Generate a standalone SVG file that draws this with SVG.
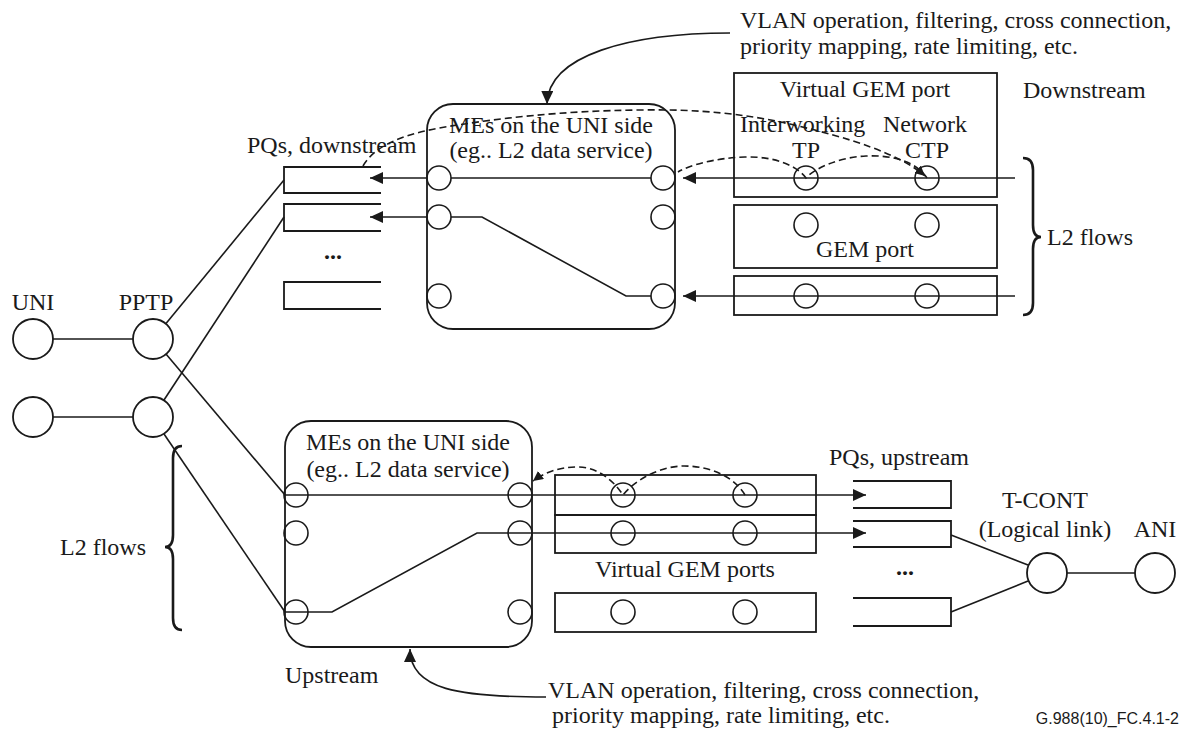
<svg xmlns="http://www.w3.org/2000/svg" width="1183" height="735" viewBox="0 0 1183 735">
<style>
  text { font-family: "Liberation Serif", "Times New Roman", serif; font-size: 24px; fill: #1a1a1a; }
  .mid { text-anchor: middle; }
  .code { font-family: "Liberation Sans", Arial, sans-serif; font-size: 16px; text-anchor: end; }
  .ln { fill: none; stroke: #1a1a1a; stroke-width: 1.6; }
  .box { fill: none; stroke: #1a1a1a; stroke-width: 1.8; }
  .port { fill: none; stroke: #1a1a1a; stroke-width: 1.6; }
  .big { fill: #fff; stroke: #1a1a1a; stroke-width: 1.8; }
  .dash { fill: none; stroke: #1a1a1a; stroke-width: 1.6; stroke-dasharray: 7 4; }
  .brace { fill: none; stroke: #1a1a1a; stroke-width: 2.6; }
  .dots { font-weight: bold; }
</style>
<defs>
  <marker id="arr" markerUnits="userSpaceOnUse" markerWidth="14" markerHeight="12" refX="13" refY="6" orient="auto">
    <path d="M0,0 L13,6 L0,12 z" fill="#1a1a1a"/>
  </marker>
  <marker id="arrs" markerUnits="userSpaceOnUse" markerWidth="11" markerHeight="10" refX="10" refY="5" orient="auto">
    <path d="M0,0 L10,5 L0,10 z" fill="#1a1a1a"/>
  </marker>
</defs>

<!-- labels -->
<g id="labels">
  <text x="740" y="28">VLAN operation, filtering, cross connection,</text>
  <text x="740" y="54">priority mapping, rate limiting, etc.</text>
  <text x="1023" y="98">Downstream</text>
  <text x="247" y="153">PQs, downstream</text>
  <text x="1047" y="245">L2 flows</text>
  <text x="829" y="465">PQs, upstream</text>
  <text x="60" y="555">L2 flows</text>
  <text x="285" y="683">Upstream</text>
  <text x="548" y="698">VLAN operation, filtering, cross connection,</text>
  <text x="552" y="723">priority mapping, rate limiting, etc.</text>
  <text class="code" x="1179" y="724">G.988(10)_FC.4.1-2</text>
  <path class="brace" d="M1023 158 Q1033 158 1033 170 L1033 225 Q1033 237 1041 237 Q1033 237 1033 249 L1033 303 Q1033 315 1023 315"/>
  <path class="brace" d="M182 446 Q173 446 173 458 L173 535 Q173 547 165 547 Q173 547 173 559 L173 618 Q173 630 182 630"/>
</g>

<!-- UNI / PPTP -->
<g id="uni1"><circle class="big" cx="33" cy="339" r="20"/><text class="mid" x="33" y="310">UNI</text></g>
<g id="uni2"><circle class="big" cx="33" cy="417" r="20"/></g>
<g id="pptp1"><circle class="big" cx="153" cy="339" r="20"/><text class="mid" x="146" y="310">PPTP</text></g>
<g id="pptp2"><circle class="big" cx="153" cy="417" r="20"/></g>

<!-- downstream PQs -->
<g id="pq-down">
  <path class="box" d="M381 167 H284 V193 H381"/>
  <path class="box" d="M381 204 H284 V231 H381"/>
  <path class="box" d="M381 282 H284 V309 H381"/>
  <text class="mid dots" x="333" y="259">...</text>
</g>

<!-- top ME box -->
<g id="me-top">
  <rect class="box" x="427" y="104" width="248" height="225" rx="26"/>
  <text class="mid" x="551" y="133">MEs on the UNI side</text>
  <text class="mid" x="551" y="158">(eg.. L2 data service)</text>
  <circle class="port" cx="439" cy="178" r="12"/>
  <circle class="port" cx="439" cy="217" r="12"/>
  <circle class="port" cx="439" cy="296" r="12"/>
  <circle class="port" cx="663" cy="178" r="12"/>
  <circle class="port" cx="663" cy="217" r="12"/>
  <circle class="port" cx="663" cy="296" r="12"/>
</g>

<!-- top GEM ports -->
<g id="vgem-top">
  <rect class="box" x="734" y="73" width="263" height="124"/>
  <text class="mid" x="865" y="97">Virtual GEM port</text>
  <text x="740" y="132">Interworking</text>
  <text class="mid" x="806" y="158">TP</text>
  <text class="mid" x="925" y="132">Network</text>
  <text class="mid" x="927" y="158">CTP</text>
</g>
<g id="gem-top2">
  <rect class="box" x="734" y="205" width="263" height="63"/>
  <circle class="port" cx="806" cy="225" r="12"/>
  <circle class="port" cx="927" cy="225" r="12"/>
  <text class="mid" x="865" y="257">GEM port</text>
</g>
<g id="gem-top3">
  <rect class="box" x="734" y="276" width="263" height="39"/>
</g>

<!-- lower ME box -->
<g id="me-bottom">
  <rect class="box" x="285" y="421" width="247" height="226" rx="26"/>
  <text class="mid" x="408" y="450">MEs on the UNI side</text>
  <text class="mid" x="408" y="477">(eg.. L2 data service)</text>
  <circle class="port" cx="296" cy="495" r="12"/>
  <circle class="port" cx="296" cy="533" r="12"/>
  <circle class="port" cx="296" cy="612" r="12"/>
  <circle class="port" cx="520" cy="495" r="12"/>
  <circle class="port" cx="520" cy="533" r="12"/>
  <circle class="port" cx="520" cy="612" r="12"/>
</g>

<!-- lower virtual GEM ports -->
<g id="vgem-bottom">
  <rect class="box" x="555" y="475" width="261" height="40"/>
  <rect class="box" x="555" y="515" width="261" height="38"/>
  <circle class="port" cx="623" cy="495" r="12"/>
  <circle class="port" cx="745" cy="495" r="12"/>
  <circle class="port" cx="623" cy="533" r="12"/>
  <circle class="port" cx="745" cy="533" r="12"/>
  <text class="mid" x="685" y="577">Virtual GEM ports</text>
  <rect class="box" x="555" y="593" width="261" height="39"/>
  <circle class="port" cx="623" cy="612" r="12"/>
  <circle class="port" cx="745" cy="612" r="12"/>
</g>

<!-- upstream PQs -->
<g id="pq-up">
  <path class="box" d="M853 481 H951 V508 H853"/>
  <path class="box" d="M853 521 H951 V547 H853"/>
  <path class="box" d="M853 598 H951 V626 H853"/>
  <text class="mid dots" x="905" y="575">...</text>
</g>

<g id="tcont"><circle class="big" cx="1047" cy="573" r="20"/>
  <text class="mid" x="1045" y="508">T-CONT</text>
  <text class="mid" x="1045" y="537">(Logical link)</text></g>
<g id="ani"><circle class="big" cx="1155" cy="573" r="20"/><text class="mid" x="1155" y="537">ANI</text></g>

<!-- connectors -->
<g id="connectors">
  <line class="ln" x1="53" y1="339" x2="133" y2="339"/>
  <line class="ln" x1="53" y1="417" x2="133" y2="417"/>
  <line class="ln" x1="166" y1="323.6" x2="284" y2="180"/>
  <line class="ln" x1="164" y1="400" x2="284" y2="217"/>
  <line class="ln" x1="166" y1="354" x2="285" y2="495"/>
  <line class="ln" x1="164" y1="434" x2="285" y2="612"/>

  <!-- downstream -->
  <line class="ln" x1="427" y1="178" x2="370" y2="178" marker-end="url(#arr)"/>
  <line class="ln" x1="427" y1="217" x2="370" y2="217" marker-end="url(#arr)"/>
  <line class="ln" x1="451" y1="178" x2="651" y2="178"/>
  <polyline class="ln" points="451,217 482,217 626,296 651,296"/>
  <line class="ln" x1="1015" y1="178" x2="683" y2="178" marker-end="url(#arr)"/>
  <line class="ln" x1="1015" y1="296" x2="683" y2="296" marker-end="url(#arr)"/>
  <circle class="port" cx="806" cy="178" r="12"/>
  <circle class="port" cx="927" cy="178" r="12"/>
  <circle class="port" cx="806" cy="296" r="12"/>
  <circle class="port" cx="927" cy="296" r="12"/>

  <path class="dash" d="M363 166 C376 143 410 133 445 127 C500 118 560 111 640 110 C700 109 745 114 790 124 C850 138 900 154 925 176" marker-end="url(#arrs)"/>
  <path class="dash" d="M927 178 C915 160 890 155 866 156 C840 157 815 168 806 178 C797 166 775 156 745 157 C715 158 690 165 678 172"/>

  <!-- upstream -->
  <line class="ln" x1="285" y1="495" x2="866" y2="495" marker-end="url(#arr)"/>
  <polyline class="ln" points="285,612 332,612 477,533 866,533" marker-end="url(#arr)"/>
  <path class="dash" d="M745 495 C733 475 708 466 684 466 C660 466 635 480 623 495 C612 478 595 467 578 467 C560 467 545 472 533 481" marker-end="url(#arrs)"/>
  <line class="ln" x1="951" y1="535" x2="1028" y2="565"/>
  <line class="ln" x1="951" y1="612" x2="1028" y2="581"/>
  <line class="ln" x1="1067" y1="573" x2="1135" y2="573"/>

  <!-- annotation arrows -->
  <path class="ln" d="M730 33 C630 33 548 55 547 104" marker-end="url(#arr)"/>
  <path class="ln" d="M546 697 C460 697 410 690 410 649" marker-end="url(#arr)"/>
</g>
</svg>
